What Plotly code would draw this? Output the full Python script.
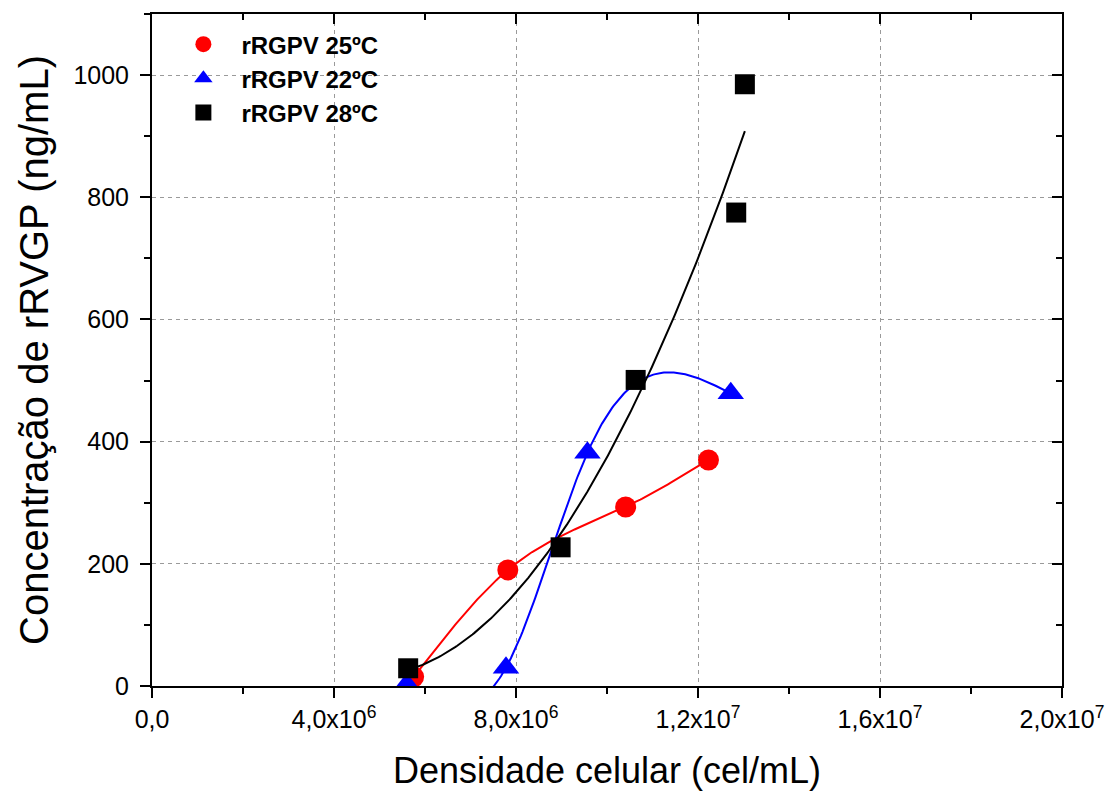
import numpy as np
import plotly.graph_objects as go

# rRGPV concentration (ng/mL) vs. cell density (cells/mL) at three temperatures
dens_25 = [5.75e6, 7.82e6, 10.41e6, 12.23e6]
conc_25 = [15, 190, 293, 370]

dens_22 = [5.60e6, 7.78e6, 9.57e6, 12.72e6]
conc_22 = [3, 30, 382, 479]

dens_28 = [5.63e6, 8.98e6, 10.63e6, 12.84e6, 13.03e6]
conc_28 = [29, 227, 501, 775, 985]

x_tickvals = [0, 4e6, 8e6, 1.2e7, 1.6e7, 2e7]
x_ticktext = ["0,0", "4,0x10<sup>6</sup>", "8,0x10<sup>6</sup>",
              "1,2x10<sup>7</sup>", "1,6x10<sup>7</sup>", "2,0x10<sup>7</sup>"]
y_tickvals = [0, 200, 400, 600, 800, 1000]

FONT = "Liberation Sans, Arial, sans-serif"
X_RANGE = [0, 2e7]
Y_RANGE = [0, 1100]
SCALE = 1e6


def natural_spline(xs, ys, n=200):
    """Natural cubic spline connector through the measured points."""
    x = np.asarray(xs, float) / SCALE
    y = np.asarray(ys, float)
    h = np.diff(x)
    k = len(x)
    A = np.zeros((k, k))
    rhs = np.zeros(k)
    A[0, 0] = A[-1, -1] = 1.0
    for i in range(1, k - 1):
        A[i, i - 1] = h[i - 1]
        A[i, i] = 2 * (h[i - 1] + h[i])
        A[i, i + 1] = h[i]
        rhs[i] = 6 * ((y[i + 1] - y[i]) / h[i] - (y[i] - y[i - 1]) / h[i - 1])
    M = np.linalg.solve(A, rhs)
    t = np.linspace(x[0], x[-1], n)
    seg = np.clip(np.searchsorted(x, t) - 1, 0, k - 2)
    x0, x1, hh = x[seg], x[seg + 1], h[seg]
    out = (M[seg] * (x1 - t) ** 3 / (6 * hh) + M[seg + 1] * (t - x0) ** 3 / (6 * hh)
           + (y[seg] / hh - M[seg] * hh / 6) * (x1 - t)
           + (y[seg + 1] / hh - M[seg + 1] * hh / 6) * (t - x0))
    return t * SCALE, out


# connectors for 25 ºC and 22 ºC, quadratic trend for 28 ºC
sx25, sy25 = natural_spline(dens_25, conc_25)
sx22, sy22 = natural_spline(dens_22, conc_22)
coef = np.polyfit(np.array(dens_28) / SCALE, conc_28, 2)
fit_x = np.linspace(min(dens_28), max(dens_28), 200)
fit_y = np.polyval(coef, fit_x / SCALE)

fig = go.Figure()

for cx, cy, col in [(sx25, sy25, "#ff0000"), (sx22, sy22, "#0000ff"), (fit_x, fit_y, "#000000")]:
    fig.add_trace(go.Scatter(x=cx, y=cy, mode="lines", line=dict(color=col, width=2),
                             showlegend=False, hoverinfo="skip"))

fig.add_trace(go.Scatter(x=dens_25, y=conc_25, mode="markers", name="rRGPV 25ºC",
                         marker=dict(symbol="circle", size=21, color="#ff0000")))
fig.add_trace(go.Scatter(x=dens_22, y=conc_22, mode="markers", name="rRGPV 22ºC",
                         marker=dict(symbol="triangle-up", size=23, color="#0000ff")))
fig.add_trace(go.Scatter(x=dens_28, y=conc_28, mode="markers", name="rRGPV 28ºC",
                         marker=dict(symbol="square", size=20, color="#000000")))

grid = dict(showgrid=True, gridcolor="#9a9a9a", gridwidth=1, griddash="4px,4px")

fig.update_layout(
    width=1113, height=791,
    margin=dict(l=152, r=51, t=14, b=105),
    paper_bgcolor="white", plot_bgcolor="white",
    font=dict(family=FONT, color="black"),
    xaxis=dict(
        range=X_RANGE, tickmode="array", tickvals=x_tickvals, ticktext=x_ticktext,
        ticks="outside", ticklen=10, tickwidth=2, tickcolor="black",
        showline=True, linewidth=2, linecolor="black", zeroline=False, automargin=False,
        tickfont=dict(size=25, family=FONT),
        minor=dict(tickmode="linear", tick0=0, dtick=2e6, ticks="outside",
                   ticklen=6, tickwidth=2, tickcolor="black", showgrid=False),
        title=dict(text="Densidade celular (cel/mL)", font=dict(size=36, family=FONT),
                   standoff=26),
        **grid,
    ),
    yaxis=dict(
        range=Y_RANGE, tickmode="array", tickvals=y_tickvals,
        ticks="outside", ticklen=10, tickwidth=2, tickcolor="black",
        showline=True, linewidth=2, linecolor="black", zeroline=False, automargin=False,
        tickfont=dict(size=25, family=FONT), ticklabelstandoff=6,
        minor=dict(tickmode="linear", tick0=0, dtick=100, ticks="outside",
                   ticklen=6, tickwidth=2, tickcolor="black", showgrid=False),
        title=dict(text="Concentração de rRVGP (ng/mL)", font=dict(size=40, family=FONT),
                   standoff=12),
        **grid,
    ),
    xaxis2=dict(
        range=X_RANGE, overlaying="x", side="top", tickmode="array", tickvals=x_tickvals,
        ticks="inside", ticklen=10, tickwidth=2, tickcolor="black", showticklabels=False,
        showline=True, linewidth=2, linecolor="black", showgrid=False, zeroline=False,
        automargin=False,
        minor=dict(tickmode="linear", tick0=0, dtick=2e6, ticks="inside",
                   ticklen=6, tickwidth=2, tickcolor="black"),
    ),
    yaxis2=dict(
        range=Y_RANGE, overlaying="y", side="right", tickmode="array", tickvals=y_tickvals,
        ticks="inside", ticklen=10, tickwidth=2, tickcolor="black", showticklabels=False,
        showline=True, linewidth=2, linecolor="black", showgrid=False, zeroline=False,
        automargin=False,
        minor=dict(tickmode="linear", tick0=0, dtick=100, ticks="inside",
                   ticklen=6, tickwidth=2, tickcolor="black"),
    ),
    legend=dict(
        x=0.0147, y=0.988, xanchor="left", yanchor="top",
        bgcolor="rgba(0,0,0,0)", borderwidth=0,
        font=dict(size=24, family=FONT, weight="bold", color="black"),
        itemwidth=66, tracegroupgap=0,
    ),
)

# empty trace bound to the top/right frame axes
fig.add_trace(go.Scatter(x=[None], y=[None], xaxis="x2", yaxis="y2",
                         showlegend=False, hoverinfo="skip"))

fig.write_html("out.html")
